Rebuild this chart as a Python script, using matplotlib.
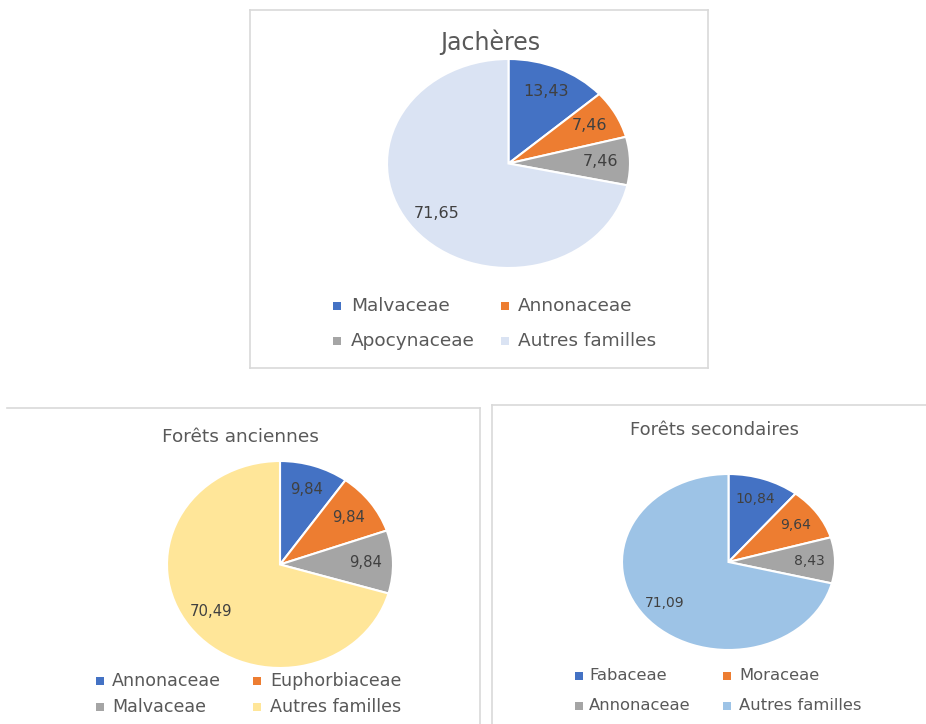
import matplotlib.pyplot as plt
import matplotlib.patches as patches

W, H = 926, 724

# data
jach_names = ['Malvaceae', 'Annonaceae', 'Apocynaceae', 'Autres familles']
jach_vals = [13.43, 7.46, 7.46, 71.65]
jach_cols = ['#4472C4', '#ED7D31', '#A5A5A5', '#DAE3F3']

anc_names = ['Annonaceae', 'Euphorbiaceae', 'Malvaceae', 'Autres familles']
anc_vals = [9.84, 9.84, 9.84, 70.49]
anc_cols = ['#4472C4', '#ED7D31', '#A5A5A5', '#FFE699']

sec_names = ['Fabaceae', 'Moraceae', 'Annonaceae', 'Autres familles']
sec_vals = [10.84, 9.64, 8.43, 71.09]
sec_cols = ['#4472C4', '#ED7D31', '#A5A5A5', '#9DC3E6']

plt.rcParams['font.family'] = ['DejaVu Sans']

fig = plt.figure(figsize=(W / 100, H / 100), dpi=100)


def fx(x):
    return x / W


def fy(y):
    return 1 - y / H


def box(x0, y0, x1, y1, sides='tblr'):
    kw = dict(color='#D9D9D9', lw=1.2, transform=fig.transFigure)
    if 't' in sides:
        fig.add_artist(plt.Line2D([fx(x0), fx(x1)], [fy(y0), fy(y0)], **kw))
    if 'b' in sides:
        fig.add_artist(plt.Line2D([fx(x0), fx(x1)], [fy(y1), fy(y1)], **kw))
    if 'l' in sides:
        fig.add_artist(plt.Line2D([fx(x0), fx(x0)], [fy(y0), fy(y1)], **kw))
    if 'r' in sides:
        fig.add_artist(plt.Line2D([fx(x1), fx(x1)], [fy(y0), fy(y1)], **kw))


def pie_panel(vals, cols, names, pie_box, title, title_xy, title_fs,
              leg_x, leg_text_x, leg_y, leg_fs, lab_fs):
    x0, y0, x1, y1 = pie_box
    ax = fig.add_axes([fx(x0), fy(y1), (x1 - x0) / W, (y1 - y0) / H])
    wedges, _, autotexts = ax.pie(
        vals, colors=cols, startangle=90, counterclock=False,
        autopct=lambda p: '', pctdistance=0.76,
        wedgeprops=dict(edgecolor='white', linewidth=1.5))
    for t, v in zip(autotexts, vals):
        t.set_text(f'{v:.2f}'.replace('.', ','))
        t.set_fontsize(lab_fs)
        t.set_color('#404040')
    ax.set_aspect('auto')
    ax.set_xlim(-1.0, 1.0)
    ax.set_ylim(-1.0, 1.0)
    ax.axis('off')

    fig.text(fx(title_xy[0]), fy(title_xy[1]), title, ha='center', va='center',
             fontsize=title_fs, color='#595959')

    for i, name in enumerate(names):
        c, r = i % 2, i // 2
        mx = leg_x[c]
        my = leg_y[r]
        fig.add_artist(patches.Rectangle((fx(mx), fy(my + 4)), 8 / W, 8 / H,
                                         transform=fig.transFigure,
                                         facecolor=cols[i], edgecolor='none'))
        fig.text(fx(leg_text_x[c]), fy(my), name, ha='left', va='center',
                 fontsize=leg_fs, color='#595959')


# panel frames
box(250, 10, 708, 368)
box(7, 408, 480, 730, sides='tr')
box(492, 405, 940, 730, sides='tl')

pie_panel(jach_vals, jach_cols, jach_names, (387, 59, 630, 268),
          'Jachères', (490, 42), 17,
          (333, 501), (351, 518), (306, 341), 13.3, 11.5)

pie_panel(anc_vals, anc_cols, anc_names, (167, 461, 393, 668),
          'Forêts anciennes', (240, 437), 13.3,
          (96, 253), (112, 270), (681, 707), 12.6, 10.7)

pie_panel(sec_vals, sec_cols, sec_names, (622, 474, 835, 650),
          'Forêts secondaires', (715, 430), 13,
          (575, 723), (589, 739), (676, 706), 11.8, 10)

fig.savefig('out.png', dpi=100, facecolor='white')
